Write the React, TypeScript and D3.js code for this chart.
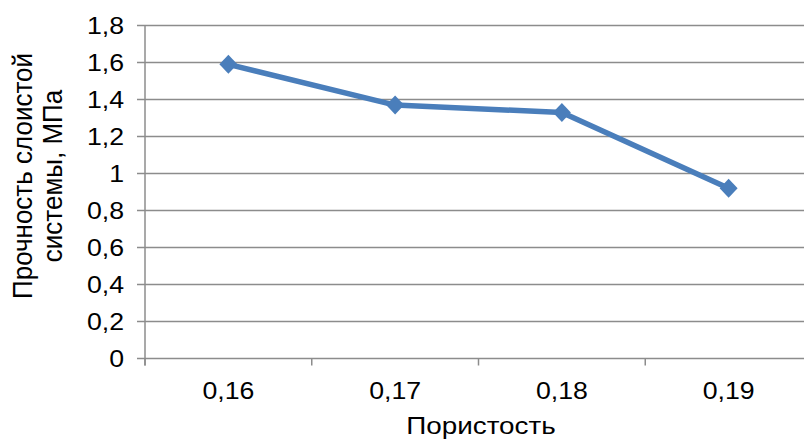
import React from "react";
import * as d3 from "d3";

// Porosity categories and layered-system strength (MPa)
const porosity = ["0,16", "0,17", "0,18", "0,19"];
const strength = [1.59, 1.37, 1.33, 0.92];
const yTicks = [0, 0.2, 0.4, 0.6, 0.8, 1, 1.2, 1.4, 1.6, 1.8];
const yTitleLines = ["Прочность слоистой", "системы, МПа"];
const xTitle = "Пористость";

const W = 804;
const H = 440;
const left = 145;
const right = 812;
const top = 25.5;
const bottom = 358.5;
const sx = 1.16; // horizontal text stretch
const font = "'Liberation Sans', Arial, sans-serif";
const gridColor = "#8c8c8c";
const lineColor = "#4a7ebb";

const fmt = (v: number) => String(v).replace(".", ",");

export default function App() {
  const x = d3.scaleBand<string>().domain(porosity).range([left, right]).paddingInner(0).paddingOuter(0);
  const y = d3.scaleLinear().domain([0, 1.8]).range([bottom, top]);
  const cx = (c: string) => (x(c) as number) + x.bandwidth() / 2;

  const pts: [number, number][] = porosity.map((c, i) => [cx(c), y(strength[i])]);
  const line = d3.line()(pts) as string;
  const boundaries = d3.range(porosity.length + 1).map((i) => left + i * x.bandwidth());

  return (
    <svg width={W} height={H} style={{ position: "absolute", left: 0, top: 0, background: "#fff" }}>
      {yTicks.map((t) => (
        <g key={t}>
          <line x1={left - 8} x2={W} y1={y(t)} y2={y(t)} stroke={gridColor} strokeWidth={1.5} />
          <text
            transform={`translate(124,${y(t) + 8.2}) scale(${sx},1)`}
            textAnchor="end"
            fontFamily={font}
            fontSize={23}
            fill="#000"
          >
            {fmt(t)}
          </text>
        </g>
      ))}
      <line x1={left} x2={left} y1={top} y2={bottom + 7} stroke={gridColor} strokeWidth={1.5} />
      {boundaries.map((b, i) => (
        <line key={i} x1={b} x2={b} y1={bottom} y2={bottom + 7} stroke={gridColor} strokeWidth={1.5} />
      ))}
      {porosity.map((c) => (
        <text
          key={c}
          transform={`translate(${cx(c)},399) scale(${sx},1)`}
          textAnchor="middle"
          fontFamily={font}
          fontSize={23}
          fill="#000"
        >
          {c}
        </text>
      ))}
      <path d={line} fill="none" stroke={lineColor} strokeWidth={5.5} strokeLinejoin="round" />
      {pts.map(([px, py], i) => (
        <path
          key={i}
          d={`M${px},${py - 9.5}L${px + 9},${py}L${px},${py + 9.5}L${px - 9},${py}Z`}
          fill={lineColor}
        />
      ))}
      <text
        transform={`translate(481,434) scale(${sx},1)`}
        textAnchor="middle"
        fontFamily={font}
        fontSize={24}
        fill="#000"
      >
        {xTitle}
      </text>
      {yTitleLines.map((s, i) => (
        <text
          key={s}
          transform={`translate(${32 + i * 30},176) rotate(-90) scale(1,1.08)`}
          textAnchor="middle"
          fontFamily={font}
          fontSize={26}
          fill="#000"
        >
          {s}
        </text>
      ))}
    </svg>
  );
}
